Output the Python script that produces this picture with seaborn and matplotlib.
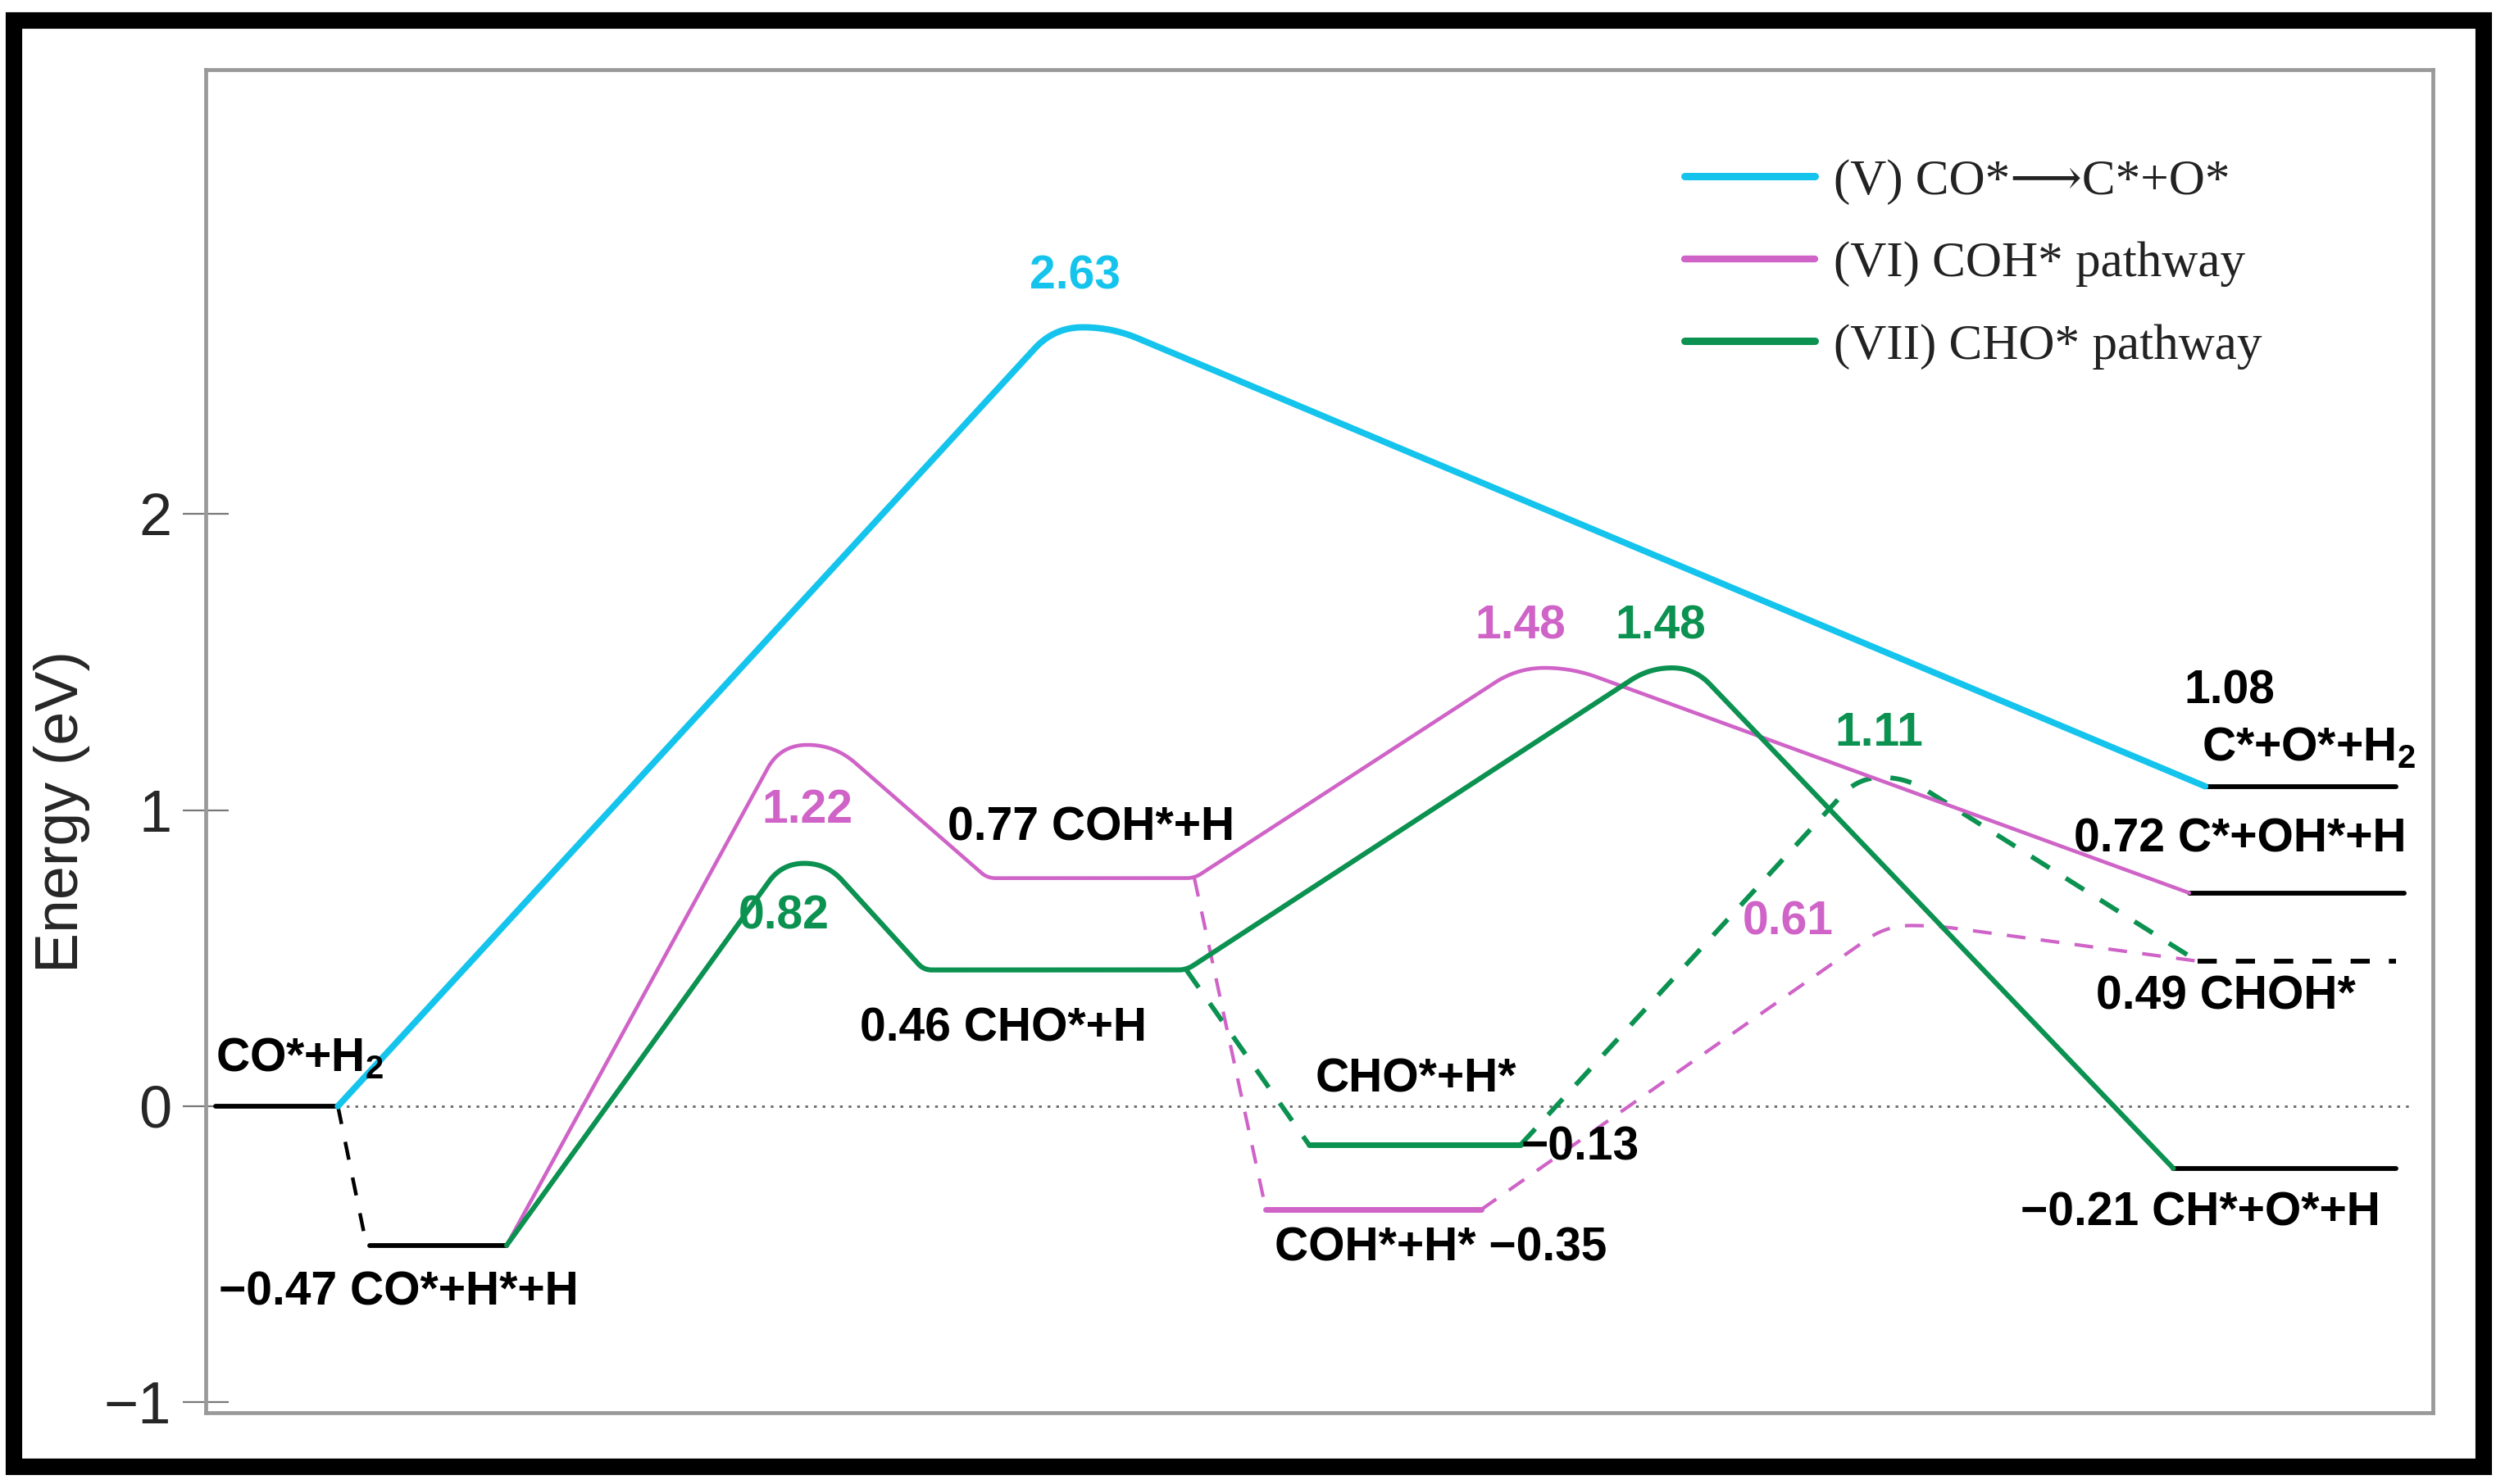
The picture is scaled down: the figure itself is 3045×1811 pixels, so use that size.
import numpy as np
import pandas as pd
import matplotlib
matplotlib.use("Agg")
import matplotlib.pyplot as plt
from matplotlib.lines import Line2D
from matplotlib.patches import Rectangle
import seaborn as sns

# ---------------- data ----------------
# Pathway (V): CO* -> C* + O*
v_x = [0.82, 5.50, 12.55]
v_E = [0.00, 2.63, 1.08]
# Pathway (VI): COH* pathway (main + alternative via COH*+H*)
vi_x = [1.88, 3.77, 4.90, 6.20, 8.40, 12.45]
vi_E = [-0.47, 1.22, 0.77, 0.77, 1.48, 0.72]
vi_alt_x = [6.20, 6.65, 8.00, 10.70, 12.50]
vi_alt_E = [0.77, -0.35, -0.35, 0.61, 0.49]
# Pathway (VII): CHO* pathway (main + alternative via CHO*+H*)
vii_x = [1.88, 3.75, 4.50, 6.15, 9.20, 12.35]
vii_E = [-0.47, 0.82, 0.46, 0.46, 1.48, -0.21]
vii_alt_x = [6.15, 6.92, 8.25, 10.52, 12.50]
vii_alt_E = [0.46, -0.13, -0.13, 1.11, 0.49]
# common black levels
start_x0 = [0.05, 1.02]
start_x1 = [0.82, 1.88]
start_E = [0.00, -0.47]
end_x0 = [12.55, 12.45, 12.50, 12.35]
end_x1 = [13.75, 13.80, 13.75, 13.75]
end_E = [1.08, 0.72, 0.49, -0.21]
end_dashed = [False, False, True, False]

legend_labels = ["(V) CO*\u27f6C*+O*", "(VI) COH* pathway", "(VII) CHO* pathway"]
y_ticks = [-1, 0, 1, 2]

CYAN = "#14C4EC"
PINK = "#CF63C7"
GREEN = "#0B9150"

# ---------------- style ----------------
sns.set_style("white")
plt.rcParams["font.family"] = ["Liberation Sans", "DejaVu Sans"]
plt.rcParams["mathtext.fontset"] = "custom"
plt.rcParams["mathtext.rm"] = "Liberation Sans:bold"
plt.rcParams["mathtext.default"] = "rm"

W, H = 3045, 1811
AX_L, AX_R, AX_T, AX_B = 251, 2968, 85, 1724
fig = plt.figure(figsize=(W / 100, H / 100), dpi=100)
ax = fig.add_axes([AX_L / W, 1 - AX_B / H, (AX_R - AX_L) / W, (AX_B - AX_T) / H])
ax.set_xlim(-0.01, 13.98)
ax.set_ylim(-1.035, 3.50)

# outer black frame
fig.patches.append(Rectangle((17 / W, 1 - 1790 / H), (3030 - 17) / W, (1790 - 25) / H,
                             transform=fig.transFigure, fill=False, edgecolor="black",
                             linewidth=14.5, zorder=10))


def expand_peaks(xs, Es, w):
    px, pe, peak = [], [], []
    for i, (x, e) in enumerate(zip(xs, Es)):
        if 0 < i < len(xs) - 1 and e > Es[i - 1] and e > Es[i + 1]:
            px += [x - w, x + w]
            pe += [e, e]
            peak += [True, True]
        else:
            px.append(x)
            pe.append(e)
            peak.append(False)
    return px, pe, peak


def smooth(xs, ys, radii, n=24):
    pts = ax.transData.transform(np.column_stack([xs, ys]))
    out = [pts[0]]
    for i in range(1, len(pts) - 1):
        P, A, B = pts[i], pts[i - 1], pts[i + 1]
        da, db = A - P, B - P
        la, lb = np.hypot(*da), np.hypot(*db)
        r = min(radii[i], 0.5 * la, 0.5 * lb)
        if r <= 0.5:
            out.append(P)
            continue
        q1 = P + da / la * r
        q2 = P + db / lb * r
        t = np.linspace(0, 1, n)[:, None]
        out.extend((1 - t) ** 2 * q1 + 2 * (1 - t) * t * P + t ** 2 * q2)
    out.append(pts[-1])
    res = ax.transData.inverted().transform(np.array(out))
    return res[:, 0], res[:, 1]


def draw(xs, ys, color, lw, ls="-"):
    df = pd.DataFrame({"x": xs, "y": ys})
    sns.lineplot(data=df, x="x", y="y", sort=False, estimator=None, color=color,
                 linewidth=lw, linestyle=ls, ax=ax, solid_capstyle="round",
                 solid_joinstyle="round", dash_capstyle="butt")


def draw_path(xs, Es, color, lw, w, r_peak, r_other=10):
    px, pe, peak = expand_peaks(xs, Es, w)
    radii = [r_peak if p else r_other for p in peak]
    sx, sy = smooth(px, pe, radii)
    draw(sx, sy, color, lw)


def draw_alt(xs, Es, color, lw, lw_flat, dash, w, r_peak):
    # horizontal stretches solid, slopes dashed
    i = 0
    while i < len(xs) - 1:
        if Es[i] == Es[i + 1]:
            draw([xs[i], xs[i + 1]], [Es[i], Es[i + 1]], color, lw_flat)
            i += 1
        else:
            j = i + 1
            while j < len(xs) - 1 and Es[j] != Es[j + 1]:
                j += 1
            px, pe, peak = expand_peaks(xs[i:j + 1], Es[i:j + 1], w)
            radii = [r_peak if p else 12 for p in peak]
            sx, sy = smooth(px, pe, radii)
            draw(sx, sy, color, lw, (0, dash))
            i = j


# zero reference line
draw([0.82, 13.85], [0, 0], "#666666", 2.0, (0, (1.2, 2.6)))

# black levels
for x0, x1, e in zip(start_x0, start_x1, start_E):
    draw([x0, x1], [e, e], "black", 4.2)
sx, sy = smooth([start_x1[0], start_x0[1] - 0.02, start_x0[1]], [start_E[0], start_E[1], start_E[1]],
                [0, 14, 0])
draw(sx, sy, "black", 3.2, (0, (5, 5)))
for x0, x1, e, d in zip(end_x0, end_x1, end_E, end_dashed):
    draw([x0, x1], [e, e], "black", 4.2, (0, (4, 4)) if d else "-")

# pathways
draw_alt(vii_alt_x, vii_alt_E, GREEN, 4.2, 5.0, (4.5, 4.0), 0.15, 70)
draw_alt(vi_alt_x, vi_alt_E, PINK, 3.0, 5.0, (5.5, 4.5), 0.15, 45)
draw_path(vi_x, vi_E, PINK, 3.3, 0.17, 40)
draw_path(vii_x, vii_E, GREEN, 4.4, 0.14, 50)
draw_path(v_x, v_E, CYAN, 5.6, 0.18, 80)

# ---------------- text labels ----------------
FS = 41
lab = dict(fontsize=FS, fontweight="bold")
ax.text(5.45, 2.80, "2.63", color=CYAN, ha="center", va="center", **lab)
ax.text(3.77, 1.00, "1.22", color=PINK, ha="center", va="center", **lab)
ax.text(3.62, 0.64, "0.82", color=GREEN, ha="center", va="center", **lab)
ax.text(5.55, 0.94, "0.77 COH*+H", color="black", ha="center", va="center", **lab)
ax.text(5.00, 0.26, "0.46 CHO*+H", color="black", ha="center", va="center", **lab)
ax.text(8.25, 1.62, "1.48", color=PINK, ha="center", va="center", **lab)
ax.text(9.13, 1.62, "1.48", color=GREEN, ha="center", va="center", **lab)
ax.text(10.50, 1.26, "1.11", color=GREEN, ha="center", va="center", **lab)
ax.text(9.93, 0.62, "0.61", color=PINK, ha="center", va="center", **lab)
ax.text(0.05, 0.16, "CO*+H$_2$", color="black", ha="left", va="center", **lab)
ax.text(0.07, -0.63, "\u22120.47 CO*+H*+H", color="black", ha="left", va="center", **lab)
ax.text(7.59, 0.09, "CHO*+H*", color="black", ha="center", va="center", **lab)
ax.text(8.25, -0.14, "\u22120.13", color="black", ha="left", va="center", **lab)
ax.text(7.75, -0.48, "COH*+H* \u22120.35", color="black", ha="center", va="center", **lab)
ax.text(12.70, 1.40, "1.08", color="black", ha="center", va="center", **lab)
ax.text(13.20, 1.21, "C*+O*+H$_2$", color="black", ha="center", va="center", **lab)
ax.text(12.77, 0.90, "0.72 C*+OH*+H", color="black", ha="center", va="center", **lab)
ax.text(12.68, 0.37, "0.49 CHOH*", color="black", ha="center", va="center", **lab)
ax.text(12.52, -0.36, "\u22120.21 CH*+O*+H", color="black", ha="center", va="center", **lab)

# ---------------- axes styling ----------------
ax.set_yticks(y_ticks)
ax.set_yticklabels([f"{t}".replace("-", "\u2212") for t in y_ticks])
ax.set_xticks([])
ax.tick_params(axis="y", direction="inout", length=40, width=1.6, color="#777777",
               labelsize=52, pad=10, left=True)
for s in ax.spines.values():
    s.set_color("#999999")
    s.set_linewidth(3.4)
ax.set_xlabel("")
ax.set_ylabel("Energy (eV)", fontsize=53)
ax.yaxis.set_label_coords(-0.052, (AX_B - 990) / (AX_B - AX_T))

handles = [Line2D([], [], color=CYAN, lw=6.5),
           Line2D([], [], color=PINK, lw=6.0),
           Line2D([], [], color=GREEN, lw=6.5)]
leg = ax.legend(handles, legend_labels, loc="upper left",
                bbox_to_anchor=(0.664, (AX_B - 194) / (AX_B - AX_T)),
                frameon=False, borderaxespad=0, borderpad=0, handlelength=2.6,
                handletextpad=0.38, labelspacing=0.73,
                prop={"family": ["Liberation Serif", "DejaVu Serif"], "size": 44})
for t in leg.get_texts():
    t.set_color("#222222")

fig.savefig("out.png", dpi=100)
